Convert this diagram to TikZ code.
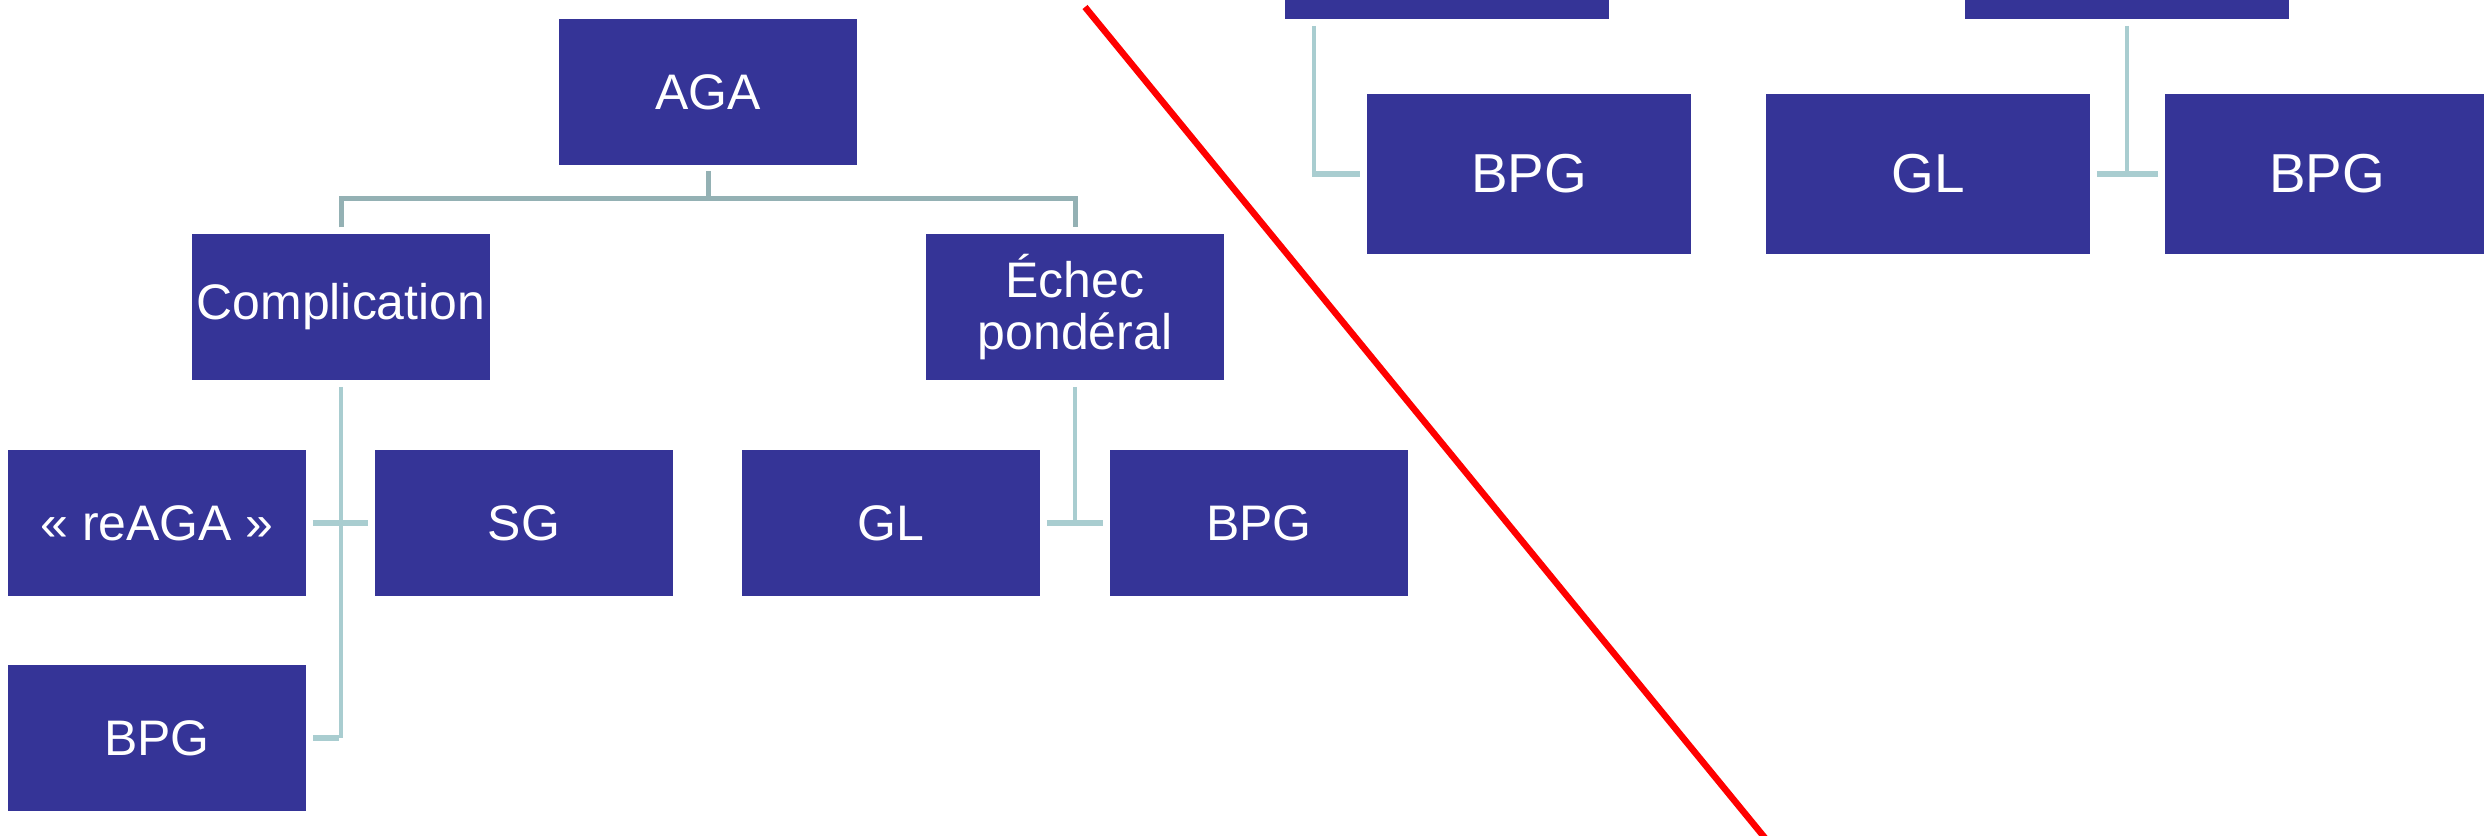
\documentclass[tikz,border=0pt]{standalone}
\usepackage{fontspec}
\setmainfont{Liberation Sans}
\definecolor{boxblue}{RGB}{53,52,151}
\definecolor{trunkgray}{RGB}{148,177,180}
\definecolor{linkteal}{RGB}{169,205,208}
\tikzset{
  box/.style = {fill = boxblue, text = white, inner sep = 0pt, align = center,
    minimum width = 2.98cm, minimum height = 1.46cm,
    font = \fontsize{14.2}{14.9}\selectfont},
  bigbox/.style = {box, minimum width = 3.24cm, minimum height = 1.60cm,
    font = \fontsize{15.6}{16.4}\selectfont},
  trunk/.style = {draw = trunkgray, line width = 0.05cm},
  link/.style = {draw = linkteal, line width = 0.04cm},
  stub/.style = {draw = linkteal, line width = 0.06cm},
  cut/.style = {draw = red, line width = 0.065cm}
}
\begin{document}
\begin{tikzpicture}[x = 0.01cm, y = -0.01cm]
\useasboundingbox (0,0) rectangle (2484,835);
% left tree
\node[box] (aga) at (708,92) {AGA};
\node[box] (compl) at (341,307) {Complication};
\node[box] (echec) at (1075,307) {Échec\\pondéral};
\node[box] (reaga) at (157,523) {«~reAGA~»};
\node[box] (sg) at (524,523) {SG};
\node[box] (gl) at (891,523) {GL};
\node[box] (bpgA) at (1259,523) {BPG};
\node[box] (bpgB) at (157,738) {BPG};
% right part, cut at the top and right
\node[bigbox] (topL) at (1447,-61) {};
\node[bigbox] (topR) at (2127,-61) {};
\node[bigbox] (bpgC) at (1529,174) {BPG};
\node[bigbox] (glR) at (1928,174) {GL};
\node[bigbox] (bpgD) at (2327,174) {BPG};
% connectors
\draw[trunk] ([yshift=-0.05cm]aga.south) -- ++(0,28) coordinate (bar);
\draw[trunk] ([yshift=0.06cm]compl.north) |- (bar) -| ([yshift=0.06cm]echec.north);
\draw[link] ([yshift=-0.06cm]compl.south) -- (compl.south |- bpgB);
\draw[stub] ([xshift=-0.02cm]compl.south |- bpgB) -- ([xshift=0.06cm]bpgB.east);
\draw[stub] ([xshift=0.06cm]reaga.east) -- ([xshift=-0.06cm]sg.west);
\draw[link] ([yshift=-0.06cm]echec.south) -- (echec.south |- gl);
\draw[stub] ([xshift=0.06cm]gl.east) -- ([xshift=-0.06cm]bpgA.west);
\draw[link] ([xshift=-1.33cm, yshift=-0.06cm]topL.south) -- ([xshift=-1.33cm]topL.south |- bpgC);
\draw[stub] ([xshift=-1.35cm]topL.south |- bpgC) -- ([xshift=-0.06cm]bpgC.west);
\draw[link] ([yshift=-0.06cm]topR.south) -- (topR.south |- glR);
\draw[stub] ([xshift=0.06cm]glR.east) -- ([xshift=-0.06cm]bpgD.west);
% red cut line
\coordinate (cutA) at (1085,7);
\coordinate (cutB) at (1765,838);
\draw[cut] (cutA) -- (cutB);
\end{tikzpicture}
\end{document}
